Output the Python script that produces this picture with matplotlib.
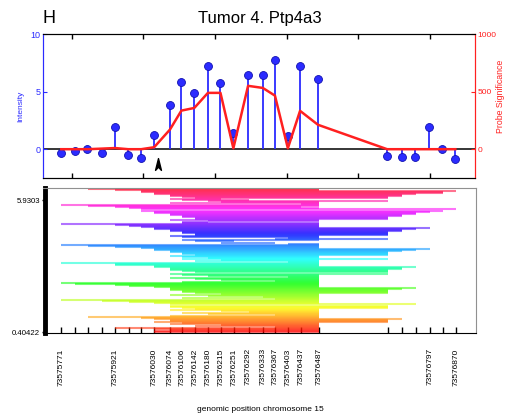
import numpy as np
import matplotlib.pyplot as plt
from matplotlib.path import Path

plt.rcParams['font.family'] = ['Liberation Sans', 'DejaVu Sans']

# ==============================
# Data
# ==============================
positions = np.array([73575771, 73575809, 73575844, 73575884, 73575921, 73575958,
                      73575994, 73576030, 73576074, 73576106, 73576142, 73576180,
                      73576215, 73576251, 73576292, 73576333, 73576367, 73576403,
                      73576437, 73576487, 73576680, 73576720, 73576758, 73576797,
                      73576832, 73576870])
intensity = np.array([-0.3, -0.15, 0.05, -0.3, 1.9, -0.5, -0.75, 1.2, 3.85, 5.8,
                      4.9, 7.2, 5.75, 1.4, 6.4, 6.4, 7.75, 1.15, 7.2, 6.1,
                      -0.55, -0.67, -0.67, 1.9, 0.05, -0.82])
significance = np.array([0, 0, 0, 5, 10, 0, 0, 17, 170, 335, 358, 489, 489, 8,
                         550, 532, 465, 8, 333, 212, 0, 0, 0, 0, 0, 0])
labelled = [0, 4, 7, 8, 9, 10, 11, 12, 13, 14, 15, 16, 17, 18, 19, 23, 25]

arrow_pos = 73576042
arrow_y = -1.27

# candidate segments (start probe, end probe), grouped top -> bottom
segment_groups = [
    [(2, 19), (4, 19), (6, 25), (6, 24), (7, 24), (7, 22), (8, 21), (8, 21),
     (9, 20), (10, 20), (8, 12), (9, 14), (11, 20), (12, 19)],
    [(8, 19), (18, 19)],
    [(0, 19), (2, 19), (4, 18), (5, 19), (6, 25), (6, 24), (7, 23), (7, 22),
     (8, 22), (8, 21), (9, 21), (9, 20), (10, 20), (10, 20), (8, 19), (11, 19),
     (9, 11), (9, 19)],
    [(0, 19), (4, 19), (5, 19), (6, 19), (7, 23), (7, 22), (8, 21), (8, 21),
     (9, 20), (9, 20), (10, 20), (10, 20), (8, 19), (9, 19), (17, 19), (16, 20),
     (9, 19), (10, 13), (12, 16), (17, 19)],
    [(0, 19), (2, 19), (4, 19), (6, 19), (7, 23), (7, 22), (8, 21), (8, 20),
     (9, 20), (9, 20), (10, 20), (8, 19), (9, 19), (11, 19), (9, 20), (12, 19),
     (10, 19), (17, 19)],
    [(0, 19), (4, 19), (4, 19), (7, 19), (7, 22), (8, 21), (8, 21), (8, 20),
     (9, 20), (10, 20), (8, 20), (9, 19), (11, 19), (17, 19), (8, 19), (10, 19),
     (12, 19), (16, 19), (9, 19)],
    [(0, 19), (1, 19), (4, 19), (5, 19), (7, 19), (8, 22), (8, 21), (8, 20),
     (9, 20), (9, 20), (10, 20), (12, 19), (8, 19), (11, 19), (15, 19), (9, 19),
     (16, 19)],
    [(0, 19), (3, 19), (5, 19), (7, 19), (8, 22), (8, 20), (8, 20), (9, 20),
     (10, 19), (8, 19), (12, 19), (14, 19), (9, 19), (11, 19), (16, 19), (8, 19)],
    [(2, 19), (6, 19), (7, 21), (8, 20), (8, 20), (7, 20), (9, 19), (8, 19),
     (12, 19), (10, 19), (16, 19)],
    [(4, 19), (7, 19), (8, 19), (7, 19), (7, 19)],
]

BLUE = '#2b2bff'
RED = '#ff2020'

# ==============================
# Figure
# ==============================
fig = plt.figure(figsize=(5.05, 4.15), dpi=100)
ax = fig.add_axes([43 / 505, 1 - 178 / 415, 432 / 505, 144 / 415])
ax2 = ax.twinx()
axb = fig.add_axes([43 / 505, 1 - 333 / 415, 433 / 505, 145 / 415])

xlim = (73575720, 73576925)

# --- top panel: intensity stems + probe significance ---
ax.axhline(0, color='black', lw=1.1, zorder=1)
ax.vlines(positions, 0, intensity, color=BLUE, lw=1.3, zorder=2)
ax.plot(positions, intensity, 'o', ms=5.7, mfc=BLUE, mec='#1010b0', mew=0.6, zorder=3)
arrow = Path([(0, 1), (0.5, -1), (0, -0.45), (-0.5, -1), (0, 1)],
             [Path.MOVETO, Path.LINETO, Path.LINETO, Path.LINETO, Path.CLOSEPOLY])
ax.plot([arrow_pos], [arrow_y], marker=arrow, ms=8.5, color='black', zorder=4)

ax2.plot(positions, significance, color=RED, lw=1.8)

ax.set_xlim(*xlim)
ax.set_ylim(-2.5, 10)
ax2.set_ylim(-250, 1000)
ax.set_xticks(np.arange(73575800, 73576801, 200))
ax.set_xticklabels([])
ax.set_yticks([0, 5, 10])
ax2.set_yticks([0, 500, 1000])
ax.tick_params(axis='x', direction='in', top=True, length=3.5, width=1)
ax.tick_params(axis='y', direction='in', colors=BLUE, labelsize=6.5, length=3, pad=2)
ax2.tick_params(axis='y', direction='in', colors=RED, labelsize=6, length=3, pad=2)
for a in (ax, ax2):
    a.spines['left'].set_color(BLUE)
    a.spines['right'].set_color(RED)
    a.spines['top'].set_color('black')
    a.spines['bottom'].set_color('black')
ax.set_ylabel('Intensity', color=BLUE, fontsize=6, labelpad=4)
fig.text(496 / 505, 1 - 96 / 415, 'Probe Significance', color=RED, fontsize=6.3,
         rotation=90, ha='left', va='center')

fig.text(42 / 505, 1 - 23 / 415, 'H', fontsize=13, va='baseline')
fig.text(0.514, 1 - 23 / 415, 'Tumor 4. Ptp4a3', fontsize=12, ha='center', va='baseline')

# --- bottom panel: segments coloured by rank ---
rows = [seg for group in segment_groups for seg in group]
n = len(rows)
ranks = np.arange(n)[::-1]
starts = positions[[s for s, e in rows]]
ends = positions[[e for s, e in rows]]
axb.hlines(ranks, starts, ends, colors=plt.cm.hsv(ranks / n), lw=1.5, alpha=0.55)

axb.spines['left'].set_position(('outward', -1.2))
axb.spines['left'].set_linewidth(3.5)
axb.spines['left'].set_color('black')
axb.spines['bottom'].set_color('black')
for side in ('top', 'right'):
    axb.spines[side].set_color('#909090')

axb.set_xlim(*xlim)
axb.set_ylim(-0.6, n - 0.2)
axb.set_xticks(positions)
axb.set_xticklabels([str(p) if i in labelled else '' for i, p in enumerate(positions)],
                    rotation=90, fontsize=6)
axb.tick_params(axis='x', direction='in', length=4, width=1, pad=11)
axb.set_yticks([0, 128])
axb.set_yticklabels(['0.40422', '5.9303'], fontsize=5.6)
axb.tick_params(axis='y', direction='out', length=2, width=1, pad=1.5)

fig.text(0.515, 1 - 409 / 415, 'genomic position chromosome 15', fontsize=6,
         ha='center', va='center')

fig.savefig('out.png', dpi=100)
